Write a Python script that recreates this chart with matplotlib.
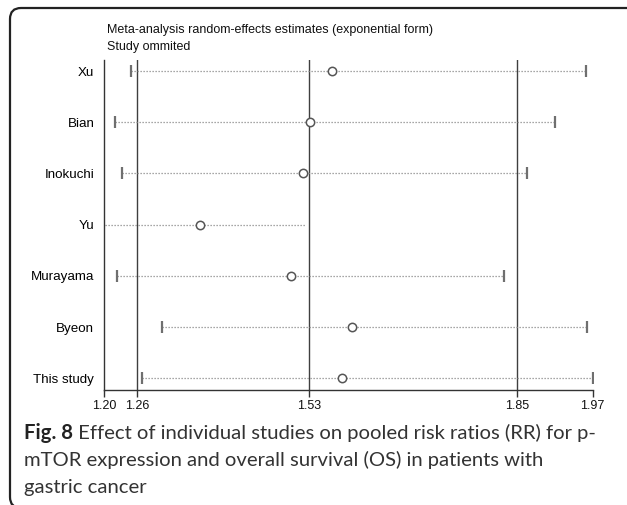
import matplotlib
matplotlib.use("Agg")
import matplotlib.pyplot as plt
from matplotlib.patches import FancyBboxPatch
from matplotlib.transforms import IdentityTransform

# ---- data ----
studies = ["Xu", "Bian", "Inokuchi", "Yu", "Murayama", "Byeon", "This study"]
estimate = [1.559, 1.524, 1.513, 1.351, 1.494, 1.591, 1.575]
ci_lower = [1.243, 1.217, 1.228, 1.150, 1.220, 1.291, 1.260]
ci_upper = [1.960, 1.911, 1.866, 1.518, 1.831, 1.962, 1.970]
show_caps = [True, True, True, False, True, True, True]
ref_lines = [1.252, 1.523, 1.8505]
tick_values = [1.20, 1.252, 1.523, 1.8505, 1.97]
tick_labels = ["1.20", "1.26", "1.53", "1.85", "1.97"]
x_range = (1.20, 1.97)
title_lines = ["Meta-analysis random-effects estimates (exponential form)", "Study ommited"]
caption_bold = "Fig. 8"
caption_lines = [
    " Effect of individual studies on pooled risk ratios (RR) for p-",
    "mTOR expression and overall survival (OS) in patients with",
    "gastric cancer",
]

W, H = 627, 505
fig = plt.figure(figsize=(W / 100, H / 100), dpi=100)
fig.patch.set_facecolor("white")

def fx(px):
    return px / W

def fy(py):
    return 1 - py / H

# rounded frame (pixel coordinates, origin bottom-left)
frame = FancyBboxPatch((10, -3), 700, H - 8 + 3,
                       boxstyle="round,pad=0,rounding_size=11",
                       transform=IdentityTransform(), fill=False,
                       edgecolor="#222222", linewidth=1.6, clip_on=False)
fig.add_artist(frame)

ax = fig.add_axes([fx(104), fy(390), fx(592.5) - fx(104), (390 - 60) / H])
ax.set_facecolor("none")
n = len(studies)
ypos = list(range(n))

ax.set_xlim(*x_range)
ax.set_ylim(n - 1 + 0.23, -0.215)

for xv in ref_lines:
    ax.axvline(xv, color="#3f3f3f", lw=1.0, zorder=1)

ax.hlines(ypos, ci_lower, ci_upper, colors="#8a8a8a", linestyles=(0, (1, 1.4)), lw=0.9, zorder=2)
for y, lo, hi, cap in zip(ypos, ci_lower, ci_upper, show_caps):
    if cap:
        ax.plot([lo, hi], [y, y], linestyle="none", marker="|", markersize=8,
                markeredgewidth=1.6, color="#6f6f6f", zorder=3)
ax.plot(estimate, ypos, linestyle="none", marker="o", markersize=6,
        markerfacecolor="white", markeredgecolor="#555555", markeredgewidth=1.1, zorder=4)

for s in ["top", "right"]:
    ax.spines[s].set_visible(False)
for s in ["left", "bottom"]:
    ax.spines[s].set_color("#333333")
    ax.spines[s].set_linewidth(1.0)

ax.set_xticks(tick_values)
ax.set_xticklabels(tick_labels, fontsize=9, family="Liberation Sans", color="#111111")
ax.set_yticks(ypos)
ax.set_yticklabels(studies, fontsize=9.6, family="Liberation Sans", color="#000000")
ax.tick_params(axis="x", length=5, width=1.0, color="#333333", pad=2)
ax.tick_params(axis="y", length=0, pad=7)

# header text
fig.text(fx(107.5), fy(30), title_lines[0], fontsize=9.0, family="Liberation Sans",
         color="#111111", va="center", ha="left")
fig.text(fx(107.5), fy(47), title_lines[1], fontsize=9.0, family="Liberation Sans",
         color="#111111", va="center", ha="left")

# caption
cap_size = 14.6
tb = fig.text(fx(24), fy(433), caption_bold, fontsize=cap_size, family="Lato",
              fontweight="bold", color="#222222", va="center", ha="left")
fig.canvas.draw()
bb = tb.get_window_extent(fig.canvas.get_renderer())
fig.text(bb.x1 / W, fy(433), caption_lines[0], fontsize=cap_size, family="Lato",
         color="#333333", va="center", ha="left")
fig.text(fx(24), fy(460), caption_lines[1], fontsize=cap_size, family="Lato",
         color="#333333", va="center", ha="left")
fig.text(fx(24), fy(487), caption_lines[2], fontsize=cap_size, family="Lato",
         color="#333333", va="center", ha="left")

fig.savefig("out.png", dpi=100, facecolor="white")
